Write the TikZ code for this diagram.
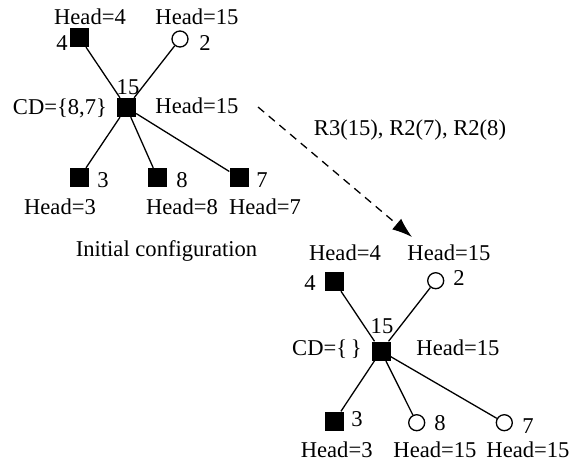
\documentclass[tikz,border=0pt]{standalone}
\usepackage{fontspec}
\setmainfont{Liberation Serif}
\usetikzlibrary{arrows.meta}
\begin{document}
\begin{tikzpicture}[x=1pt,y=-1pt,
  lbl/.style={inner sep=0pt,text height=14.8pt,text depth=0pt,font=\fontsize{22.6}{26}\selectfont},
  sq/.style={rectangle,fill=black,minimum size=19pt,inner sep=0pt},
  ring/.style={circle,draw=black,fill=white,line width=1.3pt,minimum size=16pt,inner sep=0pt},
  edge/.style={line width=1.3pt}]
\useasboundingbox (0,0) rectangle (587,463);
% ---------- left: initial configuration ----------
\node[sq] (c1) at (126.5,107.5) {};
\node[sq] (a4) at (79.5,37.5) {};
\node[ring] (a2) at (180,39) {};
\node[sq] (a3) at (79.5,177.5) {};
\node[sq] (a8) at (157.5,177.5) {};
\node[sq] (a7) at (239,177.5) {};
\draw[edge] (c1) -- (a4);
\draw[edge] (c1) -- (a2);
\draw[edge] (c1) -- (a3);
\draw[edge] (c1) -- (a8);
\draw[edge] (c1) -- (a7);
\node[lbl] (la4h) at (90,17) {Head=4};
\node[lbl] (la2h) at (197,17) {Head=15};
\node[lbl] (la4) at (62,43) {4};
\node[lbl] (la2) at (205,43) {2};
\node[lbl] (lc1) at (128,87) {15};
\node[lbl] (lcd1) at (60,107) {CD=\{8,7\}};
\node[lbl] (lc1h) at (197,106) {Head=15};
\node[lbl] (la3) at (103,180) {3};
\node[lbl] (la8) at (182,180) {8};
\node[lbl] (la7) at (262,180) {7};
\node[lbl] (la3h) at (60,207) {Head=3};
\node[lbl] (la8h) at (182,207) {Head=8};
\node[lbl] (la7h) at (265,207) {Head=7};
\node[lbl,anchor=base] (init) at (166.5,256.5) {Initial configuration};
% ---------- transition arrow ----------
\coordinate (s) at (258,107);
\coordinate (t) at (412,237);
\draw[line width=1.3pt,dash pattern=on 8pt off 6pt,-{Latex[length=20pt,width=14pt]}] (s) -- (t);
\node[lbl] (rule) at (410,128) {R3(15), R2(7), R2(8)};
% ---------- right: after ----------
\node[sq] (c2) at (381,351) {};
\node[sq] (b4) at (334.5,281.5) {};
\node[ring] (b2) at (435.7,280.7) {};
\node[sq] (b3) at (334.5,421) {};
\node[ring] (b8) at (416.7,422.7) {};
\node[ring] (b7) at (504.3,422.7) {};
\draw[edge] (c2) -- (b4);
\draw[edge] (c2) -- (b2);
\draw[edge] (c2) -- (b3);
\draw[edge] (c2) -- (b8);
\draw[edge] (c2) -- (b7);
\node[lbl] (lb4h) at (345,253) {Head=4};
\node[lbl] (lb2h) at (449,253) {Head=15};
\node[lbl] (lb4) at (310,283) {4};
\node[lbl] (lb2) at (459,278) {2};
\node[lbl] (lc2) at (382,326) {15};
\node[lbl] (lcd2) at (327,348) {CD=\{\,\}};
\node[lbl] (lc2h) at (458,348) {Head=15};
\node[lbl] (lb3) at (357,419) {3};
\node[lbl] (lb8) at (440,423) {8};
\node[lbl] (lb7) at (528,426) {7};
\node[lbl] (lb3h) at (336.7,450) {Head=3};
\node[lbl] (lb8h) at (435,450) {Head=15};
\node[lbl] (lb7h) at (528,450) {Head=15};
\end{tikzpicture}
\end{document}
